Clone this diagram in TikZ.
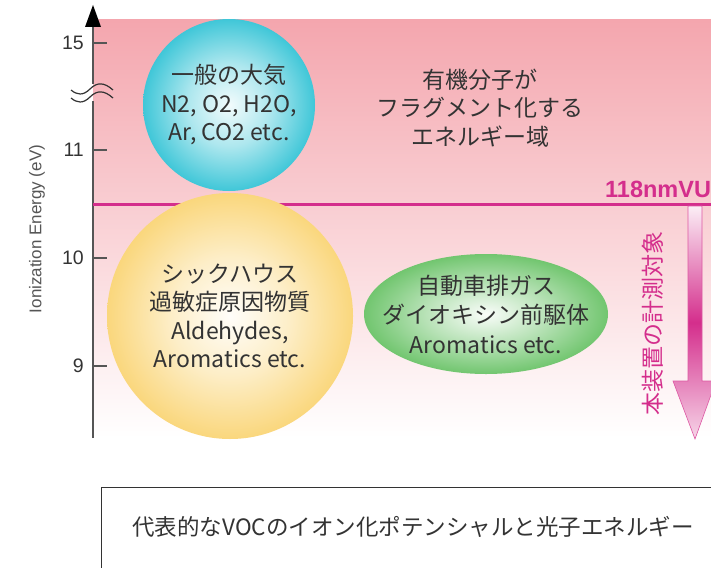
\documentclass[tikz,border=0pt]{standalone}
\usepackage{fontspec}
\setmainfont{Liberation Sans}
\newfontfamily\jp{Noto Sans CJK JP}
\usetikzlibrary{shapes.geometric}
\definecolor{mag}{HTML}{D42E8C}
\definecolor{txt}{HTML}{333333}
\definecolor{axisc}{HTML}{555555}
\definecolor{bgtop}{HTML}{F4A6AE}
\definecolor{blueC}{HTML}{00B4CB}
\definecolor{yelC}{HTML}{F8C646}
\definecolor{grnC}{HTML}{4BB648}
\pgfdeclareradialshading{blueball}{\pgfpoint{0bp}{0bp}}{color(0bp)=(blueC!5!white); color(12bp)=(blueC!32!white); color(28bp)=(blueC!85!white); color(36bp)=(blueC); color(50bp)=(blueC)}
\pgfdeclareradialshading{yelball}{\pgfpoint{0bp}{0bp}}{color(0bp)=(yelC!3!white); color(12bp)=(yelC!30!white); color(28bp)=(yelC!80!white); color(36bp)=(yelC); color(50bp)=(yelC)}
\pgfdeclareradialshading{grnball}{\pgfpoint{0bp}{0bp}}{color(0bp)=(grnC!3!white); color(12bp)=(grnC!38!white); color(28bp)=(grnC!88!white); color(36bp)=(grnC); color(50bp)=(grnC)}
\tikzset{
  ball/.style={circle, inner sep=0pt, align=center, text=txt, font=\jp\fontsize{23}{28.5}\selectfont},
  lbl/.style={align=center, text=txt, font=\jp\fontsize{23}{28.5}\selectfont},
  ticklbl/.style={anchor=east, text=txt, font=\fontsize{19.5}{19.5}\selectfont, inner sep=0pt},
  wave/.style={draw=txt, line width=1.2pt},
}
\begin{document}
\begin{tikzpicture}[x=1pt,y=-1pt]
\useasboundingbox (0,0) rectangle (711,567);
% background gradient
\shade[top color=bgtop, bottom color=white] (93,20) rectangle (711,438);
% axis
\coordinate (ax0) at (93,438);
\coordinate (ax1) at (93,84);
\coordinate (ax2) at (93,101);
\coordinate (ax3) at (93,25);
\draw[axisc, line width=1.5pt] (ax0) -- (ax2);
\draw[axisc, line width=1.5pt] (ax1) -- (ax3);
\fill[black] (85,27) -- (93,5) -- (101,27) -- cycle;
% ticks
\foreach \yy/\t in {43/15, 150/11, 258/10, 366/9}{
  \draw[axisc, line width=1.2pt] (93,\yy) -- (107,\yy);
  \node[ticklbl] at (84,\yy) {\t};
}
% break waves
\draw[wave] (71,90) .. controls (77,95) and (83,96) .. (90,89) .. controls (97,82) and (104,82) .. (113,90);
\draw[wave] (71,98) .. controls (77,103) and (83,104) .. (90,97) .. controls (97,90) and (104,90) .. (113,98);
% axis label
\node[rotate=90, text=axisc, font=\fontsize{17}{17}\selectfont] (axlbl) at (37,229) {Ionization Energy (eV)};
% 118nm line
\coordinate (l0) at (93,204);
\coordinate (l1) at (711,204);
\draw[mag, line width=3pt] (l0) -- (l1);
\node[anchor=base west, text=mag, font=\bfseries\fontsize{23.5}{23.5}\selectfont, inner sep=0pt] (vuv) at (605,197) {118nmVUV};
% balls
\node[ball, minimum size=172pt, shade, shading=blueball] (air) at (229,105) {一般の大気\\N2, O2, H2O,\\Ar, CO2 etc.};
\node[ball, minimum size=246pt, shade, shading=yelball] (sick) at (230,316) {シックハウス\\過敏症原因物質\\Aldehydes,\\Aromatics etc.};
\node[ellipse, inner sep=0pt, minimum width=244pt, minimum height=120pt, shade, shading=grnball] (car) at (486,314) {};
\node[align=center, text=txt, font=\jp\fontsize{23}{29.5}\selectfont] (cartxt) at (car) {自動車排ガス\\ダイオキシン前駆体\\Aromatics etc.};
\node[lbl] (frag) at (480,108) {有機分子が\\フラグメント化する\\エネルギー域};
% measurement arrow
\shade[top color=mag!8!white, bottom color=mag!20!white, middle color=mag, draw=mag!80!white, line width=0.6pt]
  (688,206) -- (702,206) -- (702,381) -- (716,381) -- (695,439) -- (673,381) -- (688,381) -- cycle;
\node[rotate=90, text=mag, font=\jp\fontsize{23}{23}\selectfont, inner sep=0pt] (meas) at (653,323) {本装置の計測対象};
% caption box
\draw[txt, line width=1pt] (101,600) -- (101,487) -- (730,487);
\node[text=txt, font=\jp\fontsize{22.5}{22.5}\selectfont] (cap) at (413,527) {代表的なVOCのイオン化ポテンシャルと光子エネルギー};
\end{tikzpicture}
\end{document}
